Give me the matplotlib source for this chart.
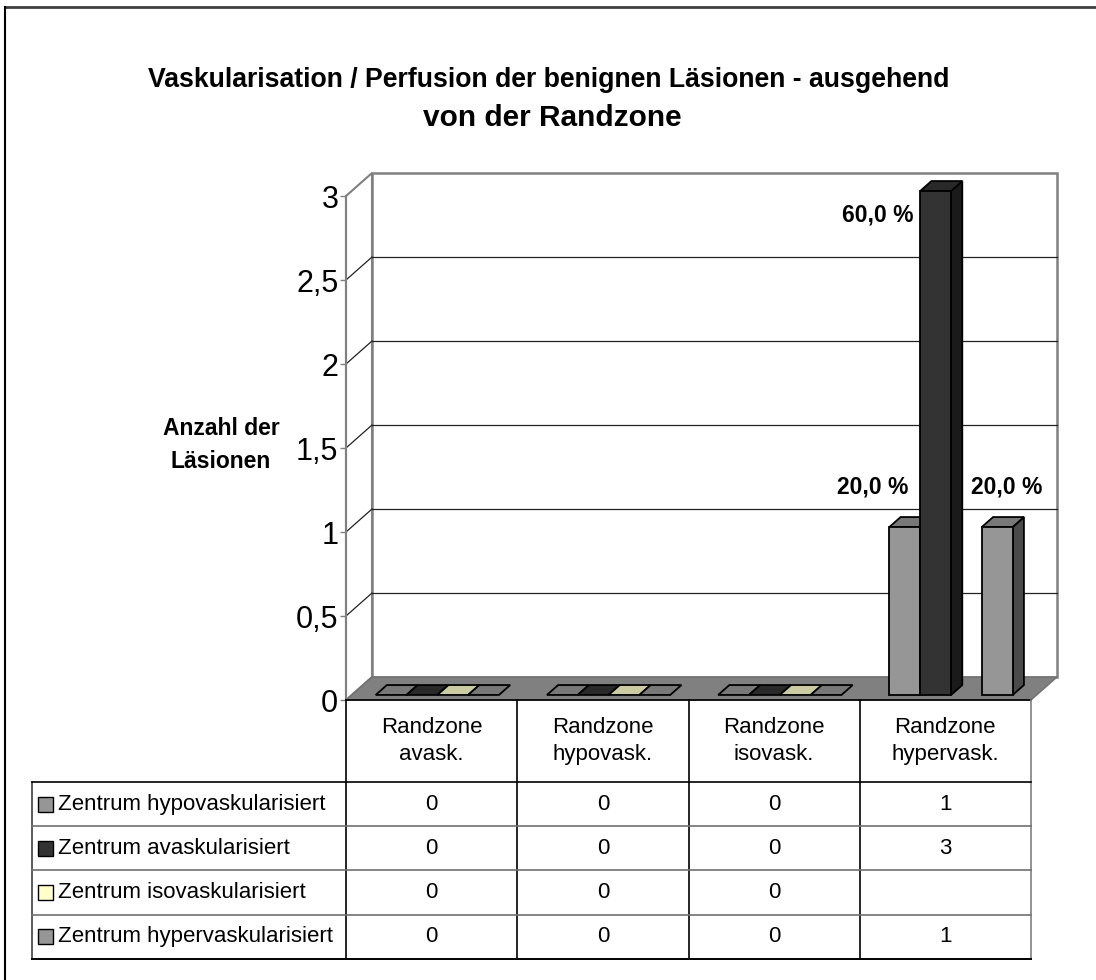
import matplotlib
matplotlib.use("Agg")
import matplotlib.pyplot as plt
from matplotlib.patches import Polygon, Rectangle
from matplotlib.lines import Line2D
from matplotlib.colors import to_rgb

plt.rcParams['font.family'] = ['Liberation Sans', 'DejaVu Sans']

# Daten
kategorien = ["Randzone\navask.", "Randzone\nhypovask.", "Randzone\nisovask.", "Randzone\nhypervask."]
serien = ["Zentrum hypovaskularisiert", "Zentrum avaskularisiert",
          "Zentrum isovaskularisiert", "Zentrum hypervaskularisiert"]
hypo = [0, 0, 0, 1]
avask = [0, 0, 0, 3]
iso = [0, 0, 0, None]
hyper = [0, 0, 0, 1]
werte = [hypo, avask, iso, hyper]
farben = ["#969696", "#333333", "#FFFFCC", "#969696"]
y_ticks = [0, 0.5, 1, 1.5, 2, 2.5, 3]

titel_1 = "Vaskularisation / Perfusion der benignen Läsionen - ausgehend"
titel_2 = "von der Randzone"
y_label = "Anzahl der\nLäsionen"

# Pseudo-3D Parameter (Tiefe in Datenkoordinaten)
DX = 26 / 171.25
DY = 23 / 168
f1, f2 = 0.22, 0.65
bar_w = 0.18
start = 0.14
# Versatz der Beschriftungen (Punkte) je Serie
label_off = [(-23, 29), (-42, -17), (0, 20), (7, 29)]


def shade(c, f):
    r, g, b = to_rgb(c)
    return (r * f, g * f, b * f)


def fmt(t):
    return ('%g' % t).replace('.', ',')


W, H = 1096, 980
fig = plt.figure(figsize=(W / 100, H / 100), dpi=100)

ax = fig.add_axes([346 / W, (H - 700) / H, 685 / W, 504 / H])
ax.patch.set_visible(False)

# Rückwand, linke Wand, Boden
ax.add_patch(Polygon([(0, 0), (DX, DY), (DX, 3 + DY), (0, 3)], closed=True,
                     facecolor='white', edgecolor='#808080', lw=1.5, clip_on=False, zorder=0))
ax.add_patch(Rectangle((DX, DY), 4, 3, facecolor='white', edgecolor='#808080',
                       lw=1.8, clip_on=False, zorder=0))
for t in y_ticks[1:-1]:
    ax.plot([DX, 4 + DX], [t + DY, t + DY], color='#222222', lw=0.9, clip_on=False, zorder=1)
    ax.plot([0, DX], [t, t + DY], color='#222222', lw=0.9, clip_on=False, zorder=1)
ax.add_patch(Polygon([(0, 0), (4, 0), (4 + DX, DY), (DX, DY)], closed=True,
                     facecolor='#808080', edgecolor='#707070', lw=1, clip_on=False, zorder=2))

# Balken
dd, dy = (f2 - f1) * DX, (f2 - f1) * DY
for i in range(len(kategorien)):
    summe = sum(s[i] for s in werte if s[i] is not None)
    for j, serie in enumerate(werte):
        v = serie[i]
        if v is None:
            continue
        x0 = i + start + j * bar_w
        c = farben[j]
        xa, xb = x0 + f1 * DX, x0 + bar_w + f1 * DX
        ya = f1 * DY
        kw = dict(closed=True, edgecolor='black', lw=1.3, clip_on=False, zorder=3)
        if v > 0:
            ax.add_patch(Polygon([(xb, ya), (xb + dd, ya + dy), (xb + dd, v + ya + dy), (xb, v + ya)],
                                 facecolor=shade(c, 0.5), **kw))
        ax.add_patch(Polygon([(xa, v + ya), (xb, v + ya), (xb + dd, v + ya + dy), (xa + dd, v + ya + dy)],
                             facecolor=shade(c, 0.8), **kw))
        if v > 0:
            ax.add_patch(Polygon([(xa, ya), (xb, ya), (xb, v + ya), (xa, v + ya)],
                                 facecolor=c, **kw))
            pct = f"{v / summe * 100:.1f}".replace('.', ',') + " %"
            ax.annotate(pct, ((xa + xb) / 2, v + ya), xytext=label_off[j],
                        textcoords='offset points', ha='center', va='center',
                        fontsize=16.5, fontweight='bold', annotation_clip=False, zorder=5)

ax.set_xlim(0, 4)
ax.set_ylim(0, 3)
ax.set_xticks([])
ax.set_yticks(y_ticks)
ax.set_yticklabels([fmt(t) for t in y_ticks])
ax.tick_params(axis='y', length=4.5, width=1, color='#808080', labelsize=22, pad=1)
for s in ['top', 'right', 'bottom']:
    ax.spines[s].set_visible(False)
ax.spines['left'].set_color('#808080')
ax.spines['left'].set_linewidth(1.5)
ax.spines['left'].set_zorder(4)

# Titel und Achsenbeschriftung
fig.text(549 / W, 1 - 80 / H, titel_1, ha='center', va='center', fontsize=19.2,
         fontweight='bold')
fig.text(552 / W, 1 - 118 / H, titel_2, ha='center', va='center', fontsize=21.5,
         fontweight='bold')
fig.text(221 / W, 1 - 445 / H, y_label, ha='center', va='center', fontsize=16.5,
         fontweight='bold', linespacing=1.55)

# Datentabelle
HH = 1.85
tb = fig.add_axes([32 / W, (H - 959) / H, (1031 - 32) / W, 259 / H])
xl = -314 / 171.25
tb.set_xlim(xl, 4)
tb.set_ylim(HH + len(serien), 0)
tb.axis('off')
tb.plot([0, 4], [0, 0], color='black', lw=1.2, clip_on=False)
for k in range(5):
    tb.plot([k, k], [0, HH + len(serien)], color='black' if k < 4 else '#808080',
            lw=1.2, clip_on=False)
tb.plot([xl, xl], [HH, HH + len(serien)], color='#404040', lw=1.2, clip_on=False)
tb.plot([xl, 4], [HH, HH], color='black', lw=1.2, clip_on=False)
for r in range(1, len(serien)):
    tb.plot([xl, 4], [HH + r, HH + r], color='#707070', lw=1.2, clip_on=False)
tb.plot([xl, 4], [HH + len(serien), HH + len(serien)], color='black', lw=1.4, clip_on=False)

for i, kat in enumerate(kategorien):
    tb.text(i + 0.5, HH / 2, kat, ha='center', va='center', fontsize=16, linespacing=1.4)

sq_w = 15 / 171.25
sq_h = 15 / 44.25
for r, (name, serie) in enumerate(zip(serien, werte)):
    yc = HH + r + 0.5
    tb.add_patch(Rectangle((xl + 6 / 171.25, yc - sq_h / 2), sq_w, sq_h,
                           facecolor=farben[r], edgecolor='black', lw=1, clip_on=False))
    tb.text(xl + 26 / 171.25, yc, name, ha='left', va='center', fontsize=16)
    for i, v in enumerate(serie):
        if v is not None:
            tb.text(i + 0.5, yc, str(v), ha='center', va='center', fontsize=16)

# Rahmen
fig.add_artist(Line2D([5 / W, 1], [1 - 7 / H, 1 - 7 / H], transform=fig.transFigure,
                      color='#404040', lw=2))
fig.add_artist(Line2D([5 / W, 5 / W], [0, 1 - 7 / H], transform=fig.transFigure,
                      color='black', lw=1.5))

fig.savefig("out.png", dpi=100)
